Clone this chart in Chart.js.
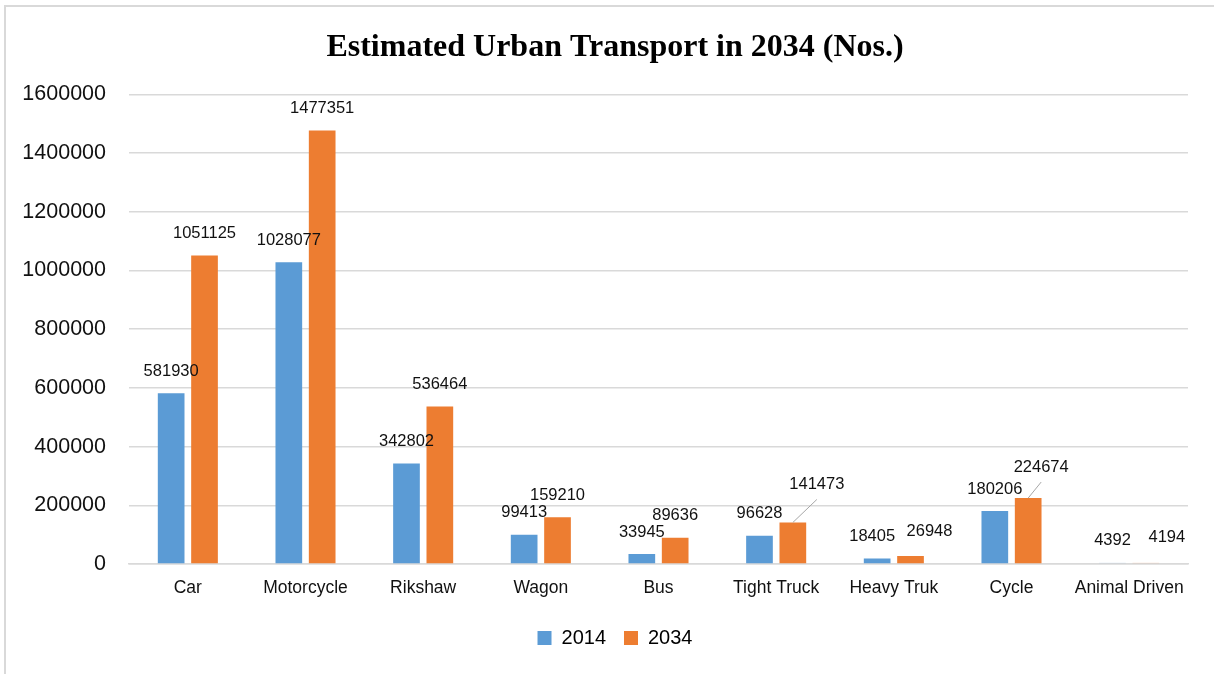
<!DOCTYPE html>
<html>
<head>
<meta charset="utf-8">
<script src="https://cdn.jsdelivr.net/npm/chart.js@4/dist/chart.umd.min.js"></script>
<style>
  html, body { margin: 0; padding: 0; background: #fff; overflow: hidden; }
  #frame { position: absolute; left: 4px; top: 5px; width: 1230px; height: 700px; border: 2px solid #d9d9d9; }
  #chart { position: absolute; left: 0; top: 0; }
</style>
</head>
<body>
<div id="frame"></div>
<canvas id="chart" width="1214" height="674"></canvas>
<script>
// data
var categories = ['Car', 'Motorcycle', 'Rikshaw', 'Wagon', 'Bus', 'Tight Truck', 'Heavy Truk', 'Cycle', 'Animal Driven'];
var values2014 = [581930, 1028077, 342802, 99413, 33945, 96628, 18405, 180206, 4392];
var values2034 = [1051125, 1477351, 536464, 159210, 89636, 141473, 26948, 224674, 4194];
var yTicks = [0, 200000, 400000, 600000, 800000, 1000000, 1200000, 1400000, 1600000];

// label nudges (px) where Excel moved a label off the bar
var shift2014 = [[0, 0], [0, 0], [0, 0], [0, 0], [0, 0], [0, 0], [-5, 0], [0, 0], [0, 0]];
var shift2034 = [[0, 0], [0, 0], [0, 0], [0, 0], [0, 0], [24, -16], [19, -3], [13, -9], [21, -3]];
var leader2034 = [false, false, false, false, false, true, false, true, false];

var blue = '#5B9BD5';
var orange = '#ED7D31';
var fadedBlue = 'rgba(91,155,213,0.22)';
var fadedOrange = 'rgba(237,125,49,0.22)';

var colors2014 = categories.map(function (c, i) { return i === categories.length - 1 ? fadedBlue : blue; });
var colors2034 = categories.map(function (c, i) { return i === categories.length - 1 ? fadedOrange : orange; });

var barLabels = {
  id: 'barLabels',
  afterDatasetsDraw: function (chart) {
    var ctx = chart.ctx;
    var shifts = [shift2014, shift2034];
    ctx.save();
    ctx.font = '16.5px "Liberation Sans"';
    ctx.fillStyle = '#111';
    ctx.textAlign = 'center';
    ctx.textBaseline = 'middle';
    chart.data.datasets.forEach(function (ds, d) {
      var meta = chart.getDatasetMeta(d);
      meta.data.forEach(function (bar, i) {
        var lx = bar.x + shifts[d][i][0];
        var ly = bar.y - 22 + shifts[d][i][1];
        if (d === 1 && leader2034[i]) {
          ctx.strokeStyle = '#a6a6a6';
          ctx.lineWidth = 1;
          ctx.beginPath();
          ctx.moveTo(bar.x, bar.y);
          ctx.lineTo(lx, ly + 15);
          ctx.stroke();
        }
        ctx.fillText(String(ds.data[i]), lx, ly);
      });
    });
    ctx.restore();
  }
};

var ctx = document.getElementById('chart');
var myChart = new Chart(ctx, {
  type: 'bar',
  data: {
    labels: categories,
    datasets: [{
      label: '2014',
      data: values2014,
      backgroundColor: colors2014
    }, {
      label: '2034',
      data: values2034,
      backgroundColor: colors2034
    }]
  },
  options: {
    responsive: false,
    animation: false,
    categoryPercentage: 0.567,
    barPercentage: 0.8,
    layout: {
      padding: { left: 16, right: 0, top: 0, bottom: 16 }
    },
    plugins: {
      title: {
        display: true,
        text: 'Estimated Urban Transport in 2034 (Nos.)',
        color: '#000',
        font: { family: 'Liberation Serif', size: 32, weight: 'bold' },
        padding: { top: 29, bottom: 27 }
      },
      legend: {
        display: true,
        position: 'bottom',
        labels: {
          boxWidth: 14,
          boxHeight: 14,
          padding: 18,
          color: '#111',
          font: { family: 'Liberation Sans', size: 20 },
          generateLabels: function (chart) {
            return chart.data.datasets.map(function (ds, i) {
              return {
                text: ds.label,
                fillStyle: i === 0 ? blue : orange,
                strokeStyle: 'rgba(0,0,0,0)',
                lineWidth: 0,
                datasetIndex: i
              };
            });
          }
        }
      },
      tooltip: { enabled: false }
    },
    scales: {
      x: {
        grid: { display: false, drawTicks: false },
        border: { display: true, color: '#d9d9d9', width: 1.5 },
        ticks: {
          color: '#111',
          padding: 14,
          maxRotation: 0,
          font: { family: 'Liberation Sans', size: 17.5 }
        },
        afterFit: function (s) { s.height = 46; }
      },
      y: {
        min: 0,
        max: 1600000,
        afterBuildTicks: function (s) { s.ticks = yTicks.map(function (v) { return { value: v }; }); },
        grid: { color: '#d9d9d9', lineWidth: 1.5, drawTicks: false },
        border: { display: false },
        ticks: {
          color: '#111',
          padding: 23,
          font: { family: 'Liberation Sans', size: 21.5 },
          callback: function (v) { return String(v); }
        },
        afterFit: function (s) { s.width = 113; }
      },
      yRight: {
        type: 'linear',
        position: 'right',
        display: true,
        grid: { display: false, drawTicks: false },
        border: { display: false },
        ticks: { display: false },
        afterFit: function (s) { s.width = 26; }
      }
    }
  },
  plugins: [barLabels]
});
</script>
</body>
</html>
